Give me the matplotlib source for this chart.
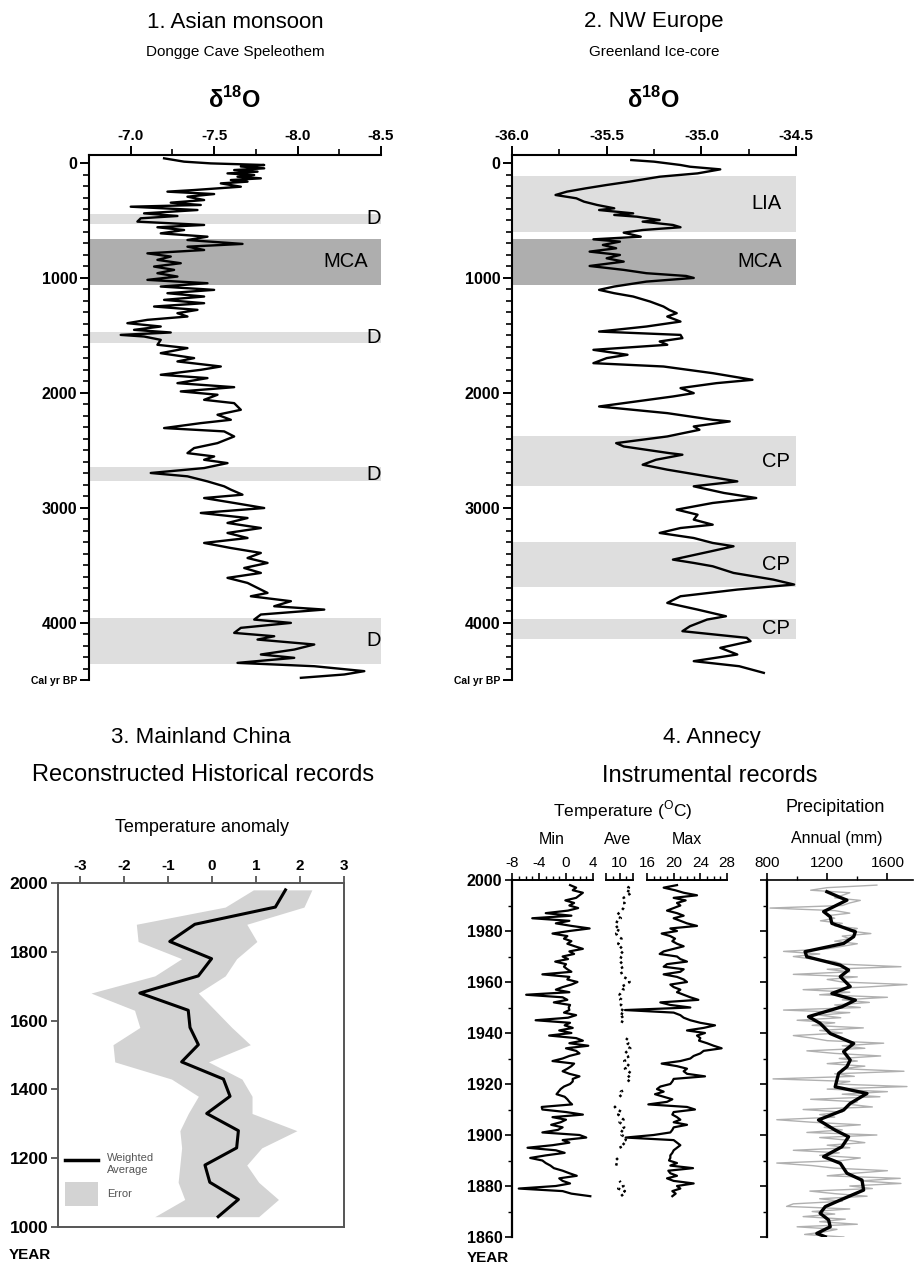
import numpy as np
import matplotlib
matplotlib.use("Agg")
import matplotlib.pyplot as plt
from matplotlib.lines import Line2D
from matplotlib.patches import Patch

plt.rcParams['font.family'] = ['Liberation Sans', 'DejaVu Sans']
plt.rcParams['mathtext.fontset'] = 'custom'
plt.rcParams['mathtext.rm'] = 'Liberation Sans'

# ---------------- Panel 1: Dongge Cave d18O ----------------
dongge_age = [-41, -12, 3, 17, 30, 46, 61, 75, 90, 104, 119, 133, 148, 162, 177, 206, 235, 249, 270, 293,
              322, 345, 365, 380, 409, 438, 461, 481, 510, 539, 559, 583, 612, 641, 670, 704, 728, 757, 786, 814,
              843, 872, 901, 930, 959, 988, 1017, 1046, 1075, 1104, 1133, 1162, 1191, 1220, 1249, 1278, 1307, 1336, 1365, 1394,
              1423, 1452, 1475, 1496, 1510, 1539, 1582, 1611, 1655, 1698, 1727, 1771, 1800, 1843, 1872, 1916, 1951, 1988, 2017, 2061,
              2090, 2148, 2191, 2235, 2264, 2307, 2336, 2380, 2438, 2481, 2525, 2554, 2583, 2612, 2655, 2698, 2727, 2771, 2814, 2843,
              2887, 2916, 2959, 3003, 3046, 3090, 3133, 3177, 3220, 3264, 3307, 3351, 3394, 3438, 3481, 3525, 3568, 3611, 3655, 3699,
              3742, 3771, 3814, 3858, 3887, 3930, 3974, 4003, 4046, 4090, 4119, 4148, 4191, 4235, 4278, 4307, 4351, 4380, 4423, 4452, 4481]
dongge_d18o = [-7.20, -7.32, -7.48, -7.80, -7.66, -7.80, -7.62, -7.76, -7.58, -7.74, -7.64, -7.78, -7.60, -7.70, -7.54, -7.66, -7.38, -7.22, -7.50, -7.34,
               -7.44, -7.24, -7.42, -7.00, -7.40, -7.08, -7.28, -7.06, -7.04, -7.44, -7.16, -7.32, -7.18, -7.46, -7.34, -7.67, -7.34, -7.44, -7.10, -7.24,
               -7.16, -7.30, -7.14, -7.26, -7.16, -7.28, -7.10, -7.46, -7.18, -7.50, -7.22, -7.44, -7.20, -7.44, -7.14, -7.40, -7.28, -7.34, -7.10, -6.98,
               -7.18, -7.02, -7.24, -6.94, -7.08, -7.18, -7.16, -7.34, -7.18, -7.38, -7.28, -7.54, -7.42, -7.18, -7.46, -7.28, -7.62, -7.30, -7.52, -7.44,
               -7.62, -7.66, -7.52, -7.60, -7.42, -7.20, -7.56, -7.62, -7.52, -7.38, -7.34, -7.50, -7.44, -7.58, -7.44, -7.12, -7.34, -7.46, -7.56, -7.60,
               -7.67, -7.44, -7.62, -7.80, -7.42, -7.70, -7.58, -7.78, -7.58, -7.70, -7.44, -7.60, -7.78, -7.70, -7.82, -7.68, -7.78, -7.58, -7.70, -7.76,
               -7.82, -7.72, -7.96, -7.86, -8.16, -7.78, -7.74, -7.96, -7.66, -7.62, -7.86, -7.76, -8.10, -7.98, -7.78, -7.98, -7.64, -8.10, -8.40, -8.28, -8.02]
p1_band_start = [440, 660, 1470, 2650, 3960]
p1_band_end = [530, 1060, 1565, 2765, 4360]
p1_band_label = ['D', 'MCA', 'D', 'D', 'D']

# ---------------- Panel 2: Greenland ice core d18O ----------------
green_age = [-26, -12, 17, 32, 55, 90, 119, 162, 191, 220, 249, 278, 307, 336, 365, 394, 409, 438, 452, 467,
             496, 510, 539, 559, 583, 606, 641, 664, 684, 713, 742, 771, 800, 829, 858, 896, 930, 959, 983, 1000,
             1032, 1075, 1104, 1133, 1162, 1206, 1249, 1278, 1307, 1336, 1380, 1423, 1467, 1496, 1524, 1553, 1582, 1626, 1669, 1698,
             1742, 1771, 1829, 1887, 1916, 1959, 2003, 2032, 2119, 2177, 2235, 2249, 2293, 2322, 2380, 2438, 2467, 2525, 2539, 2583,
             2626, 2669, 2727, 2771, 2814, 2872, 2916, 2959, 3017, 3061, 3104, 3148, 3177, 3220, 3264, 3307, 3336, 3380, 3452, 3481,
             3510, 3568, 3626, 3669, 3713, 3771, 3829, 3887, 3945, 3974, 4032, 4075, 4133, 4162, 4220, 4278, 4336, 4380, 4438]
green_d18o = [-35.37, -35.25, -35.11, -35.06, -34.90, -35.02, -35.22, -35.38, -35.50, -35.61, -35.71, -35.77, -35.66, -35.62, -35.55, -35.46, -35.54, -35.36, -35.46, -35.34,
              -35.22, -35.31, -35.15, -35.11, -35.31, -35.41, -35.32, -35.57, -35.43, -35.52, -35.45, -35.59, -35.43, -35.50, -35.41, -35.59, -35.41, -35.29, -35.08, -35.04,
              -35.29, -35.46, -35.54, -35.46, -35.36, -35.27, -35.20, -35.17, -35.13, -35.18, -35.11, -35.29, -35.54, -35.11, -35.10, -35.22, -35.18, -35.57, -35.39, -35.50,
              -35.57, -35.20, -34.94, -34.73, -34.92, -35.11, -35.04, -35.15, -35.54, -35.18, -34.94, -34.85, -35.04, -35.01, -35.18, -35.45, -35.41, -35.17, -35.10, -35.24,
              -35.31, -35.18, -34.97, -34.81, -35.04, -34.88, -34.71, -34.94, -35.13, -35.02, -35.04, -34.94, -35.11, -35.22, -35.04, -34.94, -34.83, -34.95, -35.15, -35.04,
              -34.94, -34.83, -34.62, -34.51, -34.81, -35.11, -35.18, -35.02, -34.87, -34.97, -35.06, -35.10, -34.76, -34.74, -34.90, -34.81, -35.04, -34.80, -34.67]
p2_band_start = [113, 660, 2380, 3300, 3965]
p2_band_end = [600, 1060, 2810, 3690, 4140]
p2_band_label = ['LIA', 'MCA', 'CP', 'CP', 'CP']

# ---------------- Panel 3: Mainland China ----------------
china_year = [1030, 1080, 1130, 1180, 1230, 1280, 1330, 1380, 1430, 1480, 1530, 1580, 1630, 1680, 1730, 1780, 1830, 1880, 1930, 1980]
china_wavg = [0.14, 0.60, -0.05, -0.16, 0.56, 0.60, -0.12, 0.41, 0.26, -0.69, -0.31, -0.50, -0.54, -1.64, -0.31, -0.01, -0.96, -0.39, 1.44, 1.67]
china_err_hi = [1.06, 1.51, 1.06, 0.79, 1.13, 1.93, 0.91, 0.91, 0.68, -0.08, 0.87, 0.45, 0.07, -0.31, 0.30, 0.56, 1.02, 0.79, 2.09, 2.27]
china_err_lo = [-1.30, -0.62, -0.77, -0.73, -0.69, -0.73, -0.54, -0.31, -0.92, -2.21, -2.25, -1.64, -1.76, -2.75, -1.30, -0.69, -1.68, -1.72, 0.30, 0.94]

# ---------------- Panel 4: Annecy instrumental ----------------
temp_year = list(range(1876, 1999))
t_min = [3.6, 0.8, -0.5, -7.0, -1.5, 0.6, -0.5, -1.0, 1.6, 0.5,
         -0.5, -1.8, -2.3, -3.0, -3.5, -5.3, -3.0, -0.2, -1.5, -5.7,
         -2.0, 0.5, -0.5, 3.0, 2.0, -3.5, -1.2, -0.5, -2.2, -0.8,
         0.0, -2.0, 2.5, 0.0, -3.5, -3.6, 0.9, 0.5, 0.2, -0.2,
         -1.4, -1.1, -0.8, -0.3, 0.6, 1.0, 1.0, 2.0, 0.5, -0.5,
         0.2, 0.8, 1.2, -2.0, -0.5, 0.5, 2.0, 1.5, 0.0, 3.3,
         0.5, 2.5, 1.5, -2.5, 0.8, -1.0, 1.0, -0.2, 0.6, -4.5,
         0.3, 1.5, -0.3, 0.5, 0.4, 0.6, -1.8, 0.2, -0.5, -5.9,
         0.5, -1.5, -0.5, 0.8, 1.7, 0.2, 0.5, -3.5, 0.8, 0.2,
         -0.3, 0.0, -1.6, 0.3, -0.5, 1.2, 0.5, 2.5, 1.3, 0.2,
         0.8, -0.3, 0.2, -2.0, 0.5, 3.5, 0.8, -1.5, 0.5, -5.0,
         0.8, -3.0, 0.3, 1.8, 0.5, 1.2, -0.1, 1.5, 2.0, 2.5,
         1.0, 1.5, 0.6]
t_max = [19.8, 20.3, 19.8, 21.0, 20.5, 23.0, 20.0, 19.0, 20.5, 19.5,
         19.2, 22.9, 19.5, 20.5, 19.3, 19.5, 19.5, 19.8, 20.0, 20.5,
         21.0, 20.5, 20.0, 12.8, 17.0, 19.5, 19.8, 20.0, 22.0, 20.0,
         21.0, 20.5, 19.8, 20.0, 23.2, 22.0, 16.2, 19.0, 19.8, 18.5,
         17.2, 18.5, 17.5, 18.0, 19.5, 19.8, 20.0, 24.7, 22.0, 21.5,
         22.0, 20.5, 18.2, 21.0, 22.5, 23.0, 24.0, 24.5, 27.2, 26.0,
         25.0, 23.8, 24.0, 23.5, 24.7, 22.0, 24.5, 26.2, 24.0, 22.5,
         21.5, 21.0, 20.0, 12.7, 22.5, 19.5, 18.0, 23.7, 22.5, 21.5,
         20.5, 21.0, 20.0, 19.5, 22.0, 21.5, 20.5, 18.5, 21.0, 21.5,
         18.5, 19.0, 22.0, 21.0, 20.5, 17.9, 18.5, 20.0, 21.5, 20.5,
         19.8, 20.2, 19.5, 18.2, 20.5, 19.5, 23.5, 22.0, 21.0, 20.0,
         21.5, 20.5, 19.0, 20.0, 21.0, 20.5, 21.8, 20.0, 23.5, 21.5,
         20.2, 18.5, 20.5]
nan = float('nan')
t_ave = [10.5, 10.2, 10.8, 9.8, 10.6, 10.3, 10.0, nan, nan, nan,
         nan, nan, 9.5, 9.6, 9.4, 9.8, nan, nan, nan, 10.0,
         10.8, 10.4, 10.9, 11.0, 10.3, 10.6, 10.1, 10.7, 10.5, 10.0,
         10.6, 10.2, 9.8, 10.3, 9.7, 9.3, 9.9, nan, nan, 10.0,
         10.4, 10.2, 11.0, nan, nan, 11.5, 11.0, 11.4, 11.8, 11.3,
         10.8, 11.5, 11.0, 10.7, 11.4, 11.2, 10.8, 11.2, 11.6, 11.0,
         11.3, 10.9, 11.2, nan, nan, nan, nan, nan, 10.3, 10.5,
         10.2, 10.8, 10.0, 10.4, 10.6, 10.2, 10.3, 10.1, 10.4, 10.0,
         10.3, 10.6, 10.2, 10.9, 11.5, 11.3, 10.6, 10.4, 10.2, 10.5,
         10.3, 10.0, 10.4, 10.1, 10.3, 10.6, 10.2, 10.0, 10.4, 9.8,
         10.1, 10.3, 9.7, 9.5, 10.0, 9.3, 9.8, 9.5, 9.7, 10.2,
         9.6, 9.9, 10.3, 10.6, 10.8, 10.7, 10.9, 10.6, 11.2, 11.8,
         11.0, 11.4, 10.8]
precip_year = list(range(1860, 1999))
precip_annual = [1310, 1050, 1180, 1265, 1000, 1400, 1150, 1320, 1040, 1250,
                 1100, 1350, 930, 975, 1300, 1150, 1465, 1250, 1085, 1500,
                 1350, 1690, 1420, 1685, 1200, 1380, 1600, 1250, 1100, 865,
                 1300, 1420, 1150, 1280, 975, 1350, 1200, 1450, 1330, 1150,
                 1530, 1065, 1300, 1180, 1420, 1100, 865, 1250, 1150, 1300,
                 1040, 1500, 1350, 1400, 1090, 1550, 1300, 1600, 1200, 1730,
                 1250, 1350, 840, 1380, 1250, 1710, 1300, 1450, 1200, 1400,
                 1280, 1555, 1250, 1065, 1450, 1300, 1575, 1200, 1100, 975,
                 1300, 1150, 1440, 1100, 1250, 1000, 1290, 1150, 1350, 910,
                 1420, 1250, 1480, 1300, 1600, 1150, 1350, 1040, 1450, 1730,
                 1300, 1200, 1400, 975, 1350, 1200, 1690, 1300, 1250, 1100,
                 975, 1150, 910, 1200, 1300, 1400, 1250, 1350, 1300, 1490,
                 1350, 1400, 1250, 1300, 1155, 1250, 1200, 1350, 1250, 820,
                 1300, 1350, 1420, 1250, 1300, 1350, 1090, 1200, 1530]
precip_smooth_year = [1860.1, 1861.4, 1864.0, 1866.7, 1869.3, 1871.9, 1874.5, 1878.4, 1882.3, 1885.0, 1888.9, 1891.5,
                      1895.4, 1899.3, 1901.9, 1905.9, 1909.8, 1912.4, 1916.3, 1918.9, 1924.2, 1926.8, 1929.4, 1932.7,
                      1935.9, 1939.8, 1943.8, 1946.4, 1950.3, 1952.9, 1955.5, 1958.2, 1962.1, 1964.7, 1966.6, 1969.9,
                      1971.9, 1975.1, 1977.8, 1979.7, 1983.0, 1985.6, 1987.6, 1989.5, 1992.1, 1993.4, 1995.4]
precip_smooth = [1187, 1131, 1220, 1209, 1153, 1187, 1287, 1442, 1431, 1331, 1287, 1176,
                 1298, 1342, 1253, 1142, 1309, 1353, 1464, 1253, 1276, 1331, 1353, 1309,
                 1376, 1220, 1153, 1076, 1298, 1387, 1231, 1353, 1287, 1342, 1287, 1064,
                 1053, 1309, 1376, 1387, 1231, 1220, 1176, 1242, 1331, 1276, 1198]

# ---------------- layout helpers ----------------
W, H = 917, 1269
fig = plt.figure(figsize=(W / 100, H / 100), dpi=100)


def rect(l, t, r, b):
    return [l / W, 1 - b / H, (r - l) / W, (b - t) / H]


def ftxt(x, y, s, **kw):
    kw.setdefault('ha', 'center')
    kw.setdefault('va', 'center')
    fig.text(x / W, 1 - y / H, s, **kw)


LIGHT = '#dedede'
DARK = '#aeaeae'


def core_axes(ax, xlim, xticks, xlabels, xminor, ages, vals, bs, be, bl, label_dx):
    for s, e, lab in zip(bs, be, bl):
        ax.axhspan(s, e, color=DARK if lab == 'MCA' else LIGHT, lw=0, zorder=0)
    ax.plot(vals, ages, color='black', lw=1.7, zorder=3)
    ax.set_xlim(*xlim)
    ax.set_ylim(4500, -70)
    ax.xaxis.tick_top()
    ax.set_xticks(xticks, xlabels, fontsize=11, fontweight='bold')
    ax.set_xticks(xminor, minor=True)
    ax.set_yticks([0, 1000, 2000, 3000, 4000, 4500], ['0', '1000', '2000', '3000', '4000', 'Cal yr BP'],
                  fontsize=11.5, fontweight='bold')
    ax.get_yticklabels()[-1].set_fontsize(7.5)
    ax.set_yticks(np.arange(0, 4501, 100), minor=True)
    for sp in ('right', 'bottom'):
        ax.spines[sp].set_visible(False)
    for sp in ('left', 'top'):
        ax.spines[sp].set_linewidth(1.5)
    ax.tick_params(which='major', length=6.5, width=1.4, pad=2)
    ax.tick_params(which='minor', length=4, width=1.2)
    ax.tick_params(axis='x', which='both', top=True, bottom=False)
    for s, e, lab in zip(bs, be, bl):
        ax.text(1.0 - label_dx[lab], (s + e) / 2, lab, transform=ax.get_yaxis_transform(),
                ha='right', va='center', fontsize=14.5, zorder=4)


# Panel 1
ax1 = fig.add_axes(rect(89, 155, 381, 680))
core_axes(ax1, (-6.75, -8.5), [-7.0, -7.5, -8.0, -8.5], ['-7.0', '-7.5', '-8.0', '-8.5'],
          [-7.25, -7.75, -8.25], dongge_age, dongge_d18o, p1_band_start, p1_band_end, p1_band_label,
          {'D': 0.0, 'MCA': 0.045})
ftxt(235, 22, '1. Asian monsoon', fontsize=16)
ftxt(235, 52, 'Dongge Cave Speleothem', fontsize=11)
ftxt(235, 100, r'δ$^{\mathregular{18}}$O', fontsize=17, fontweight='bold')

# Panel 2
ax2 = fig.add_axes(rect(512, 155, 796, 680))
core_axes(ax2, (-36.0, -34.5), [-36.0, -35.5, -35.0, -34.5], ['-36.0', '-35.5', '-35.0', '-34.5'],
          [-35.75, -35.25, -34.75], green_age, green_d18o, p2_band_start, p2_band_end, p2_band_label,
          {'LIA': 0.05, 'MCA': 0.05, 'CP': 0.02})
ftxt(654, 22, '2. NW Europe', fontsize=16)
ftxt(654, 52, 'Greenland Ice-core', fontsize=11)
ftxt(654, 100, r'δ$^{\mathregular{18}}$O', fontsize=17, fontweight='bold')

# Panel 3
ax3 = fig.add_axes(rect(58, 883, 344, 1227))
ax3.fill_betweenx(china_year, china_err_lo, china_err_hi, color='#d3d3d3', lw=0, zorder=1)
ax3.plot(china_wavg, china_year, color='black', lw=2.2, zorder=3)
ax3.set_xlim(-3.5, 3)
ax3.set_ylim(1000, 2000)
ax3.xaxis.tick_top()
ax3.set_xticks([-3, -2, -1, 0, 1, 2, 3], ['-3', '-2', '-1', '0', '1', '2', '3'], fontsize=11, fontweight='bold')
ax3.set_yticks([1000, 1200, 1400, 1600, 1800, 2000], ['1000', '1200', '1400', '1600', '1800', '2000'],
               fontsize=12.5, fontweight='bold')
for sp in ax3.spines.values():
    sp.set_linewidth(1.4)
    sp.set_color('#555555')
ax3.tick_params(length=5, width=1.3, pad=2, color='#555555')
leg = ax3.legend([Line2D([], [], color='black', lw=2.5), Patch(facecolor='#d3d3d3', edgecolor='none')],
                 ['Weighted\nAverage', 'Error'], loc='upper left', bbox_to_anchor=(0.0, 0.235),
                 frameon=False, fontsize=8, handlelength=3.0, handleheight=2.9, labelspacing=0.5,
                 handletextpad=0.8, borderaxespad=0.2)
for t in leg.get_texts():
    t.set_color('#555555')
ftxt(201, 738, '3. Mainland China', fontsize=16)
ftxt(203, 775, 'Reconstructed Historical records', fontsize=17)
ftxt(202, 828, 'Temperature anomaly', fontsize=13)
ftxt(30, 1255, 'YEAR', fontsize=11, fontweight='bold')

# Panel 4
axmin = fig.add_axes(rect(512, 880, 593, 1237))
axave = fig.add_axes(rect(606, 880, 633, 1237))
axmax = fig.add_axes(rect(647, 880, 727, 1237))
axpr = fig.add_axes(rect(767, 880, 913, 1237))
for ax in (axmin, axave, axmax, axpr):
    ax.set_ylim(1860, 2000)
    ax.patch.set_alpha(0)
    ax.xaxis.tick_top()
    ax.spines['right'].set_visible(False)
    ax.spines['bottom'].set_visible(False)
    ax.spines['top'].set_linewidth(1.4)
    ax.spines['left'].set_linewidth(1.6)
    ax.tick_params(which='major', length=5, width=1.2, pad=2, labelsize=11)
    ax.tick_params(which='minor', length=3, width=1.0)
for ax in (axave, axmax):
    ax.spines['left'].set_visible(False)
    ax.set_yticks([])
axmin.plot(t_min, temp_year, color='black', lw=1.6)
axmin.set_xlim(-8, 4)
axmin.set_xticks([-8, -4, 0, 4], ['-8', '-4', '0', '4'])
axmin.set_xticks(np.arange(-8, 5, 1), minor=True)
axave.plot(t_ave, temp_year, color='black', lw=1.8, linestyle=(0, (1.0, 1.6)))
axave.set_xlim(8, 12)
axave.set_xticks([8, 10, 12], ['', '10', ''])
axave.set_xticks([9, 11], minor=True)
axmax.plot(t_max, temp_year, color='black', lw=1.6, clip_on=False)
axmax.set_xlim(16, 28)
axmax.set_xticks([16, 20, 24, 28], ['16', '20', '24', '28'])
axmax.set_xticks(np.arange(16, 29, 1), minor=True)
axpr.plot(precip_annual, precip_year, color='#b0b0b0', lw=1.0, zorder=2)
axpr.plot(precip_smooth, precip_smooth_year, color='black', lw=2.4, zorder=3)
axpr.set_xlim(800, 1770)
axpr.set_xticks([800, 1200, 1600], ['800', '1200', '1600'])
axpr.set_xticks([1000, 1400], minor=True)
axpr.spines['top'].set_linewidth(1.2)
axmin.set_yticks(np.arange(1860, 2001, 20), [str(v) for v in range(1860, 2001, 20)], fontsize=11.5, fontweight='bold')
axmin.set_yticks(np.arange(1860, 2001, 10), minor=True)
axpr.set_yticks(np.arange(1860, 2001, 20), [''] * 8)
axpr.set_yticks(np.arange(1860, 2001, 10), minor=True)

ftxt(712, 738, '4. Annecy', fontsize=16)
ftxt(710, 776, 'Instrumental records', fontsize=17)
ftxt(623, 810, r'Temperature ($^{\mathregular{O}}$C)', fontsize=12.5)
ftxt(552, 839, 'Min', fontsize=11.5)
ftxt(618, 839, 'Ave', fontsize=11.5)
ftxt(687, 839, 'Max', fontsize=11.5)
ftxt(835, 808, 'Precipitation', fontsize=13)
ftxt(837, 839, 'Annual (mm)', fontsize=11.5)
ftxt(488, 1258, 'YEAR', fontsize=11, fontweight='bold')

fig.savefig('out.png', dpi=100)
